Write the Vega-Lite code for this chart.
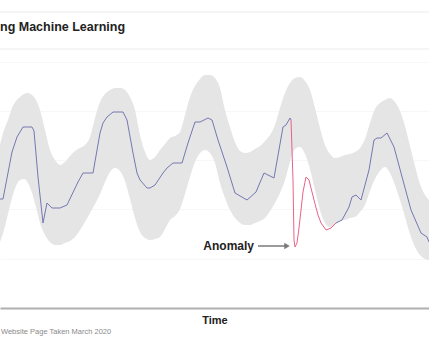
{
  "$schema": "https://vega.github.io/schema/vega-lite/v6.json",
  "width": 429,
  "height": 308,
  "autosize": {"type": "none"},
  "padding": {"left": 0, "top": 0, "right": 0, "bottom": 50},
  "background": "white",
  "config": {"view": {"stroke": null}, "font": "Liberation Sans"},
  "datasets": {
    "band": [
      {"t":0,"lo":66,"hi":163},{"t":4,"lo":78,"hi":178},{"t":8,"lo":94,"hi":188},{"t":12,"lo":110,"hi":200},
      {"t":16,"lo":122,"hi":207},{"t":20,"lo":128,"hi":211},{"t":24,"lo":129,"hi":214},{"t":28,"lo":125,"hi":215},
      {"t":32,"lo":115,"hi":213},{"t":36,"lo":101,"hi":208},{"t":40,"lo":85,"hi":198},{"t":45,"lo":73,"hi":178},
      {"t":50,"lo":66,"hi":158},{"t":55,"lo":63,"hi":148},{"t":60,"lo":63,"hi":143},{"t":65,"lo":65,"hi":146},
      {"t":70,"lo":67,"hi":152},{"t":75,"lo":71,"hi":157},{"t":80,"lo":78,"hi":160},{"t":85,"lo":86,"hi":163},
      {"t":90,"lo":95,"hi":171},{"t":95,"lo":104,"hi":190},{"t":100,"lo":114,"hi":206},{"t":105,"lo":126,"hi":214},
      {"t":110,"lo":136,"hi":218},{"t":115,"lo":140,"hi":220},{"t":120,"lo":137,"hi":220},{"t":125,"lo":127,"hi":218},
      {"t":130,"lo":109,"hi":211},{"t":135,"lo":90,"hi":198},{"t":140,"lo":76,"hi":173},{"t":145,"lo":70,"hi":156},
      {"t":150,"lo":68,"hi":148},{"t":155,"lo":69,"hi":151},{"t":160,"lo":71,"hi":158},{"t":165,"lo":79,"hi":164},
      {"t":170,"lo":88,"hi":170},{"t":175,"lo":92,"hi":172},{"t":180,"lo":99,"hi":176},{"t":185,"lo":114,"hi":193},
      {"t":190,"lo":131,"hi":211},{"t":195,"lo":146,"hi":222},{"t":200,"lo":155,"hi":229},{"t":205,"lo":158,"hi":233},
      {"t":210,"lo":155,"hi":233},{"t":215,"lo":145,"hi":230},{"t":220,"lo":125,"hi":220},{"t":225,"lo":110,"hi":198},
      {"t":230,"lo":98,"hi":181},{"t":235,"lo":90,"hi":166},{"t":240,"lo":85,"hi":157},{"t":245,"lo":83,"hi":155},
      {"t":250,"lo":83,"hi":156},{"t":255,"lo":85,"hi":159},{"t":260,"lo":87,"hi":162},{"t":265,"lo":90,"hi":167},
      {"t":270,"lo":97,"hi":173},{"t":275,"lo":105,"hi":183},{"t":280,"lo":115,"hi":200},{"t":285,"lo":128,"hi":215},
      {"t":290,"lo":146,"hi":225},{"t":295,"lo":159,"hi":230},{"t":300,"lo":161,"hi":231},{"t":305,"lo":154,"hi":227},
      {"t":310,"lo":139,"hi":218},{"t":315,"lo":118,"hi":200},{"t":320,"lo":98,"hi":180},{"t":325,"lo":85,"hi":163},
      {"t":330,"lo":81,"hi":154},{"t":335,"lo":84,"hi":150},{"t":340,"lo":87,"hi":151},{"t":345,"lo":88,"hi":153},
      {"t":350,"lo":90,"hi":154},{"t":355,"lo":91,"hi":156},{"t":360,"lo":96,"hi":160},{"t":365,"lo":103,"hi":169},
      {"t":370,"lo":117,"hi":185},{"t":375,"lo":129,"hi":199},{"t":380,"lo":137,"hi":205},{"t":385,"lo":141,"hi":208},
      {"t":390,"lo":135,"hi":210},{"t":395,"lo":123,"hi":206},{"t":400,"lo":108,"hi":197},{"t":405,"lo":91,"hi":182},
      {"t":410,"lo":74,"hi":162},{"t":415,"lo":61,"hi":142},{"t":420,"lo":53,"hi":124},{"t":425,"lo":49,"hi":113},
      {"t":429,"lo":48,"hi":108}
    ],
    "series": [
      {"t":0,"v":109,"seg":"before"},{"t":3,"v":109,"seg":"before"},{"t":12,"v":156,"seg":"before"},{"t":17,"v":171,"seg":"before"},
      {"t":23,"v":181,"seg":"before"},{"t":32,"v":181,"seg":"before"},{"t":34,"v":177,"seg":"before"},{"t":38,"v":131,"seg":"before"},
      {"t":43,"v":85,"seg":"before"},{"t":47,"v":105,"seg":"before"},{"t":52,"v":100,"seg":"before"},{"t":60,"v":100,"seg":"before"},
      {"t":67,"v":103,"seg":"before"},{"t":78,"v":126,"seg":"before"},{"t":83,"v":135,"seg":"before"},{"t":93,"v":135,"seg":"before"},
      {"t":100,"v":175,"seg":"before"},{"t":103,"v":185,"seg":"before"},{"t":107,"v":191,"seg":"before"},{"t":113,"v":196,"seg":"before"},
      {"t":123,"v":196,"seg":"before"},{"t":127,"v":188,"seg":"before"},{"t":133,"v":155,"seg":"before"},{"t":137,"v":135,"seg":"before"},
      {"t":140,"v":128,"seg":"before"},{"t":147,"v":120,"seg":"before"},{"t":150,"v":120,"seg":"before"},{"t":155,"v":123,"seg":"before"},
      {"t":163,"v":135,"seg":"before"},{"t":167,"v":140,"seg":"before"},{"t":173,"v":145,"seg":"before"},{"t":182,"v":145,"seg":"before"},
      {"t":188,"v":165,"seg":"before"},{"t":195,"v":186,"seg":"before"},{"t":200,"v":186,"seg":"before"},{"t":208,"v":190,"seg":"before"},
      {"t":212,"v":188,"seg":"before"},{"t":218,"v":168,"seg":"before"},{"t":227,"v":141,"seg":"before"},{"t":235,"v":115,"seg":"before"},
      {"t":247,"v":108,"seg":"before"},{"t":256,"v":116,"seg":"before"},{"t":264,"v":135,"seg":"before"},{"t":274,"v":130,"seg":"before"},
      {"t":283,"v":181,"seg":"before"},{"t":286,"v":183,"seg":"before"},{"t":290,"v":190,"seg":"before"},{"t":291,"v":188,"seg":"before"},
      {"t":291,"v":188,"seg":"anomaly"},{"t":293,"v":128,"seg":"anomaly"},{"t":294,"v":68,"seg":"anomaly"},{"t":295,"v":61,"seg":"anomaly"},
      {"t":297,"v":65,"seg":"anomaly"},{"t":299,"v":80,"seg":"anomaly"},{"t":301,"v":98,"seg":"anomaly"},{"t":303,"v":116,"seg":"anomaly"},
      {"t":306,"v":131,"seg":"anomaly"},{"t":309,"v":128,"seg":"anomaly"},{"t":311,"v":120,"seg":"anomaly"},{"t":314,"v":108,"seg":"anomaly"},
      {"t":318,"v":93,"seg":"anomaly"},{"t":321,"v":85,"seg":"anomaly"},{"t":326,"v":78,"seg":"anomaly"},{"t":331,"v":80,"seg":"anomaly"},
      {"t":336,"v":85,"seg":"anomaly"},
      {"t":336,"v":85,"seg":"after"},{"t":342,"v":88,"seg":"after"},{"t":349,"v":101,"seg":"after"},{"t":352,"v":111,"seg":"after"},
      {"t":356,"v":113,"seg":"after"},{"t":361,"v":108,"seg":"after"},{"t":369,"v":138,"seg":"after"},{"t":374,"v":168,"seg":"after"},
      {"t":377,"v":170,"seg":"after"},{"t":381,"v":170,"seg":"after"},{"t":387,"v":175,"seg":"after"},{"t":394,"v":161,"seg":"after"},
      {"t":401,"v":135,"seg":"after"},{"t":411,"v":98,"seg":"after"},{"t":421,"v":75,"seg":"after"},{"t":427,"v":71,"seg":"after"},
      {"t":429,"v":66,"seg":"after"}
    ]
  },
  "layer": [
    {
      "data": {"values": [{"v": 296}, {"v": 259}]},
      "mark": {"type": "rule", "color": "#ebebeb", "strokeWidth": 1},
      "encoding": {"y": {"field": "v", "type": "quantitative", "scale": {"domain": [0, 308], "nice": false, "zero": false}, "axis": {"values": [0,12.3,24.6,37,49.3,61.6,73.9,86.2,98.6,110.9,123.2,135.5,147.8,160.2,172.5,184.8,197.1,209.4,221.8,234.1,246.4], "labels": false, "ticks": false, "domain": false, "grid": true, "gridColor": "#f7f7f7", "title": null}}}
    },
    {
      "data": {"name": "band"},
      "mark": {"type": "area", "interpolate": "monotone", "color": "#e5e5e5", "opacity": 1},
      "encoding": {
        "x": {"field": "t", "type": "quantitative", "scale": {"domain": [0, 429], "nice": false, "zero": false},
              "axis": {"title": "Time", "titleFontSize": 11, "titleFontWeight": "bold", "titleColor": "#222", "titlePadding": 6, "labels": false, "ticks": false, "grid": false, "domainColor": "#b0b0b0", "domainWidth": 2}},
        "y": {"field": "lo", "type": "quantitative"},
        "y2": {"field": "hi"}
      }
    },
    {
      "data": {"name": "series"},
      "mark": {"type": "line", "strokeWidth": 1},
      "encoding": {
        "x": {"field": "t", "type": "quantitative"},
        "y": {"field": "v", "type": "quantitative"},
        "detail": {"field": "seg"},
        "color": {"field": "seg", "type": "nominal", "scale": {"domain": ["before", "anomaly", "after"], "range": ["#7478b0", "#e9628a", "#7478b0"]}, "legend": null},
        "strokeWidth": {"condition": {"test": "datum.seg === 'anomaly'", "value": 1.5}, "value": 1}
      }
    },
    {
      "data": {"values": [{"t0": 258, "t1": 286, "v": 62}]},
      "mark": {"type": "rule", "color": "#7a7a7a", "strokeWidth": 1.5},
      "encoding": {"x": {"field": "t0", "type": "quantitative"}, "x2": {"field": "t1"}, "y": {"field": "v", "type": "quantitative"}}
    },
    {
      "data": {"values": [{"t": 287, "v": 62}]},
      "mark": {"type": "point", "shape": "triangle-right", "filled": true, "color": "#7a7a7a", "size": 40, "opacity": 1},
      "encoding": {"x": {"field": "t", "type": "quantitative"}, "y": {"field": "v", "type": "quantitative"}}
    },
    {
      "data": {"values": [{"label": "Anomaly", "t": 254, "v": 62}]},
      "mark": {"type": "text", "align": "right", "baseline": "middle", "fontSize": 12, "fontWeight": "bold", "color": "#222"},
      "encoding": {"x": {"field": "t", "type": "quantitative"}, "y": {"field": "v", "type": "quantitative"}, "text": {"field": "label"}}
    },
    {
      "data": {"values": [{"label": "ng Machine Learning", "t": 0, "v": 281}]},
      "mark": {"type": "text", "align": "left", "baseline": "middle", "fontSize": 12.5, "fontWeight": "bold", "color": "#222"},
      "encoding": {"x": {"field": "t", "type": "quantitative"}, "y": {"field": "v", "type": "quantitative"}, "text": {"field": "label"}}
    },
    {
      "data": {"values": [{"label": "Website Page Taken March 2020", "t": 1, "v": -24}]},
      "mark": {"type": "text", "align": "left", "baseline": "middle", "fontSize": 7.5, "color": "#8a8a8a"},
      "encoding": {"x": {"field": "t", "type": "quantitative"}, "y": {"field": "v", "type": "quantitative"}, "text": {"field": "label"}}
    }
  ]
}
